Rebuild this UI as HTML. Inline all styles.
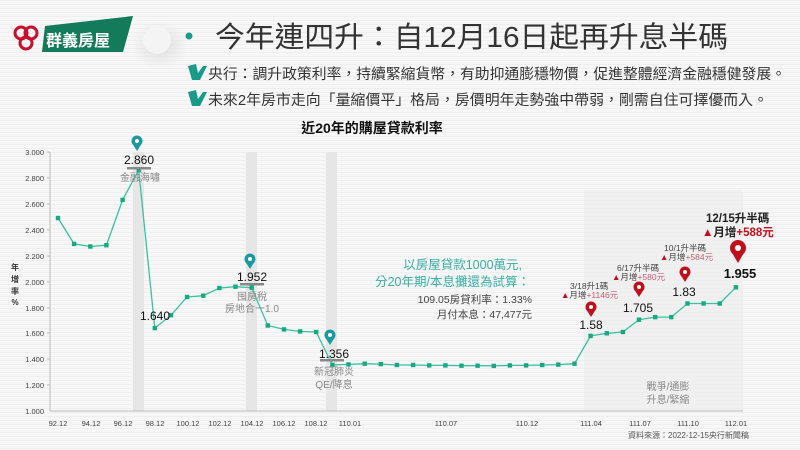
<!DOCTYPE html>
<html><head><meta charset="utf-8"><style>
html,body{margin:0;padding:0;background:#f6f6f6;}
svg{display:block;font-family:"Liberation Sans","Noto Sans CJK TC",sans-serif;}
</style></head><body>
<svg width="800" height="450" viewBox="0 0 800 450" xmlns="http://www.w3.org/2000/svg">
<defs>
<pattern id="st" width="4" height="4" patternUnits="userSpaceOnUse"><rect width="4" height="4" fill="#f7f7f7"/><rect y="0" width="4" height="1" fill="#efefef"/></pattern>
<radialGradient id="sh" cx="0.5" cy="0.5" r="0.5"><stop offset="0" stop-color="#ccc" stop-opacity="0.7"/><stop offset="1" stop-color="#ddd" stop-opacity="0"/></radialGradient>
</defs>
<rect width="800" height="450" fill="url(#st)"/>
<!-- logo -->
<polygon points="45,26 133,16 123,52 42,52" fill="#137a5a"/>
<g fill="none" stroke="#c8102e" stroke-width="3">
<circle cx="21" cy="33" r="6"/><circle cx="31" cy="33" r="6"/><circle cx="26" cy="43" r="6"/>
</g>
<text x="46" y="46" font-size="16" font-weight="bold" fill="#fff">群義房屋</text>
<ellipse cx="160" cy="45" rx="30" ry="25" fill="url(#sh)"/>
<circle cx="157" cy="40" r="14" fill="#f4f4f4"/>
<circle cx="189" cy="36" r="3.5" fill="#1a9a8a"/>
<text x="215" y="47" font-size="29" fill="#333" textLength="513" lengthAdjust="spacingAndGlyphs">今年連四升：自12月16日起再升息半碼</text>
<g fill="#1a9a8a"><polygon points="188,66 196,64 198,73 203,66 207,66 200,80 192,80"/><polygon points="188,92 196,90 198,99 203,92 207,92 200,106 192,106"/></g>
<text x="208" y="79" font-size="14.5" fill="#333" textLength="578" lengthAdjust="spacingAndGlyphs">央行：調升政策利率，持續緊縮貨幣，有助抑通膨穩物價，促進整體經濟金融穩健發展。</text>
<text x="208" y="105" font-size="14.5" fill="#333" textLength="560" lengthAdjust="spacingAndGlyphs">未來2年房市走向「量縮價平」格局，房價明年走勢強中帶弱，剛需自住可擇優而入。</text>
<text x="372" y="133" font-size="14" font-weight="bold" fill="#111" text-anchor="middle">近20年的購屋貸款利率</text>
<!-- bands -->
<g fill="#e6e6e6"><rect x="133" y="152" width="11" height="259"/><rect x="246" y="152" width="11" height="259"/><rect x="326" y="152" width="11" height="259"/></g>
<rect x="584" y="190" width="159" height="221" fill="#ededed" opacity="0.8"/>
<!-- axes -->
<g stroke="#bbb" stroke-width="1"><line x1="50" y1="152" x2="50" y2="411"/><line x1="50" y1="411" x2="743" y2="411"/></g>
<g font-size="7.5" fill="#444" text-anchor="end">
<text x="44" y="155">3.000</text><text x="44" y="181">2.800</text><text x="44" y="207">2.600</text><text x="44" y="233">2.400</text><text x="44" y="259">2.200</text><text x="44" y="285">2.000</text><text x="44" y="311">1.800</text><text x="44" y="336">1.600</text><text x="44" y="362">1.400</text><text x="44" y="388">1.200</text><text x="44" y="414">1.000</text>
</g>
<g stroke="#bbb"><line x1="47" y1="152" x2="50" y2="152"/><line x1="47" y1="178" x2="50" y2="178"/><line x1="47" y1="204" x2="50" y2="204"/><line x1="47" y1="230" x2="50" y2="230"/><line x1="47" y1="256" x2="50" y2="256"/><line x1="47" y1="282" x2="50" y2="282"/><line x1="47" y1="308" x2="50" y2="308"/><line x1="47" y1="333" x2="50" y2="333"/><line x1="47" y1="359" x2="50" y2="359"/><line x1="47" y1="385" x2="50" y2="385"/></g>
<g font-size="8" font-weight="bold" fill="#333" text-anchor="middle"><text x="15" y="270">年</text><text x="15" y="282">增</text><text x="15" y="294">率</text><text x="15" y="305">%</text></g>
<g font-size="7.5" fill="#444" text-anchor="middle">
<text x="58" y="426">92.12</text><text x="91" y="426">94.12</text><text x="123" y="426">96.12</text><text x="155" y="426">98.12</text><text x="188" y="426">100.12</text><text x="220" y="426">102.12</text><text x="252" y="426">104.12</text><text x="284" y="426">106.12</text><text x="316" y="426">108.12</text><text x="350" y="426">110.01</text><text x="446" y="426">110.07</text><text x="527" y="426">110.12</text><text x="591" y="426">111.04</text><text x="640" y="426">111.07</text><text x="688" y="426">111.10</text><text x="736" y="426">112.01</text>
</g>
<!-- series -->
<polyline fill="none" stroke="#3cc0a0" stroke-width="1.3" points="58.0,218.0 74.1,243.9 90.3,246.5 106.4,245.2 122.6,199.9 138.7,170.1 154.8,328.1 171.0,315.2 187.1,297.0 203.3,295.7 219.4,288.0 235.5,286.7 251.7,287.7 267.8,325.5 284.0,329.4 300.1,331.4 316.2,332.0 332.4,364.9 348.5,364.4 364.7,363.7 380.8,364.1 396.9,365.0 413.1,365.0 429.2,365.4 445.4,365.4 461.5,365.7 477.6,365.7 493.8,365.9 509.9,365.4 526.1,365.4 542.2,365.0 558.3,364.6 574.5,363.7 590.6,335.9 606.8,333.3 622.9,332.0 639.0,319.7 655.2,317.1 671.3,317.1 687.5,303.5 703.6,303.5 719.7,303.5 735.9,287.3"/>
<g fill="#18a882">
<rect x="55.8" y="215.8" width="4.4" height="4.4"/><rect x="71.9" y="241.7" width="4.4" height="4.4"/><rect x="88.1" y="244.3" width="4.4" height="4.4"/><rect x="104.2" y="243.0" width="4.4" height="4.4"/><rect x="120.4" y="197.7" width="4.4" height="4.4"/><rect x="136.5" y="167.9" width="4.4" height="4.4"/><rect x="152.6" y="325.9" width="4.4" height="4.4"/><rect x="168.8" y="313.0" width="4.4" height="4.4"/><rect x="184.9" y="294.8" width="4.4" height="4.4"/><rect x="201.1" y="293.5" width="4.4" height="4.4"/><rect x="217.2" y="285.8" width="4.4" height="4.4"/><rect x="233.3" y="284.5" width="4.4" height="4.4"/><rect x="249.5" y="285.5" width="4.4" height="4.4"/><rect x="265.6" y="323.3" width="4.4" height="4.4"/><rect x="281.8" y="327.2" width="4.4" height="4.4"/><rect x="297.9" y="329.2" width="4.4" height="4.4"/><rect x="314.0" y="329.8" width="4.4" height="4.4"/><rect x="330.2" y="362.7" width="4.4" height="4.4"/><rect x="346.3" y="362.2" width="4.4" height="4.4"/><rect x="362.5" y="361.5" width="4.4" height="4.4"/><rect x="378.6" y="361.9" width="4.4" height="4.4"/><rect x="394.7" y="362.8" width="4.4" height="4.4"/><rect x="410.9" y="362.8" width="4.4" height="4.4"/><rect x="427.0" y="363.2" width="4.4" height="4.4"/><rect x="443.2" y="363.2" width="4.4" height="4.4"/><rect x="459.3" y="363.5" width="4.4" height="4.4"/><rect x="475.4" y="363.5" width="4.4" height="4.4"/><rect x="491.6" y="363.7" width="4.4" height="4.4"/><rect x="507.7" y="363.2" width="4.4" height="4.4"/><rect x="523.9" y="363.2" width="4.4" height="4.4"/><rect x="540.0" y="362.8" width="4.4" height="4.4"/><rect x="556.1" y="362.4" width="4.4" height="4.4"/><rect x="572.3" y="361.5" width="4.4" height="4.4"/><rect x="588.4" y="333.7" width="4.4" height="4.4"/><rect x="604.6" y="331.1" width="4.4" height="4.4"/><rect x="620.7" y="329.8" width="4.4" height="4.4"/><rect x="636.8" y="317.5" width="4.4" height="4.4"/><rect x="653.0" y="314.9" width="4.4" height="4.4"/><rect x="669.1" y="314.9" width="4.4" height="4.4"/><rect x="685.3" y="301.3" width="4.4" height="4.4"/><rect x="701.4" y="301.3" width="4.4" height="4.4"/><rect x="717.5" y="301.3" width="4.4" height="4.4"/><rect x="733.7" y="285.1" width="4.4" height="4.4"/>
</g>
<!-- teal pins -->
<g fill="#1a9aa0">
<circle cx="137" cy="141" r="5.5"/><path d="M132,143 L137,151 L142,143 z"/>
<circle cx="250" cy="259" r="5.5"/><path d="M245,261 L250,269 L255,261 z"/>
<circle cx="330" cy="335" r="5.5"/><path d="M325,337 L330,345 L335,337 z"/>
</g>
<g fill="#fff"><circle cx="137" cy="141" r="2"/><circle cx="250" cy="259" r="2"/><circle cx="330" cy="335" r="2"/></g>
<g font-size="12" fill="#111" text-anchor="middle"><text x="139" y="164">2.860</text><text x="252" y="281">1.952</text><text x="334" y="358">1.356</text><text x="155" y="320">1.640</text></g>
<g fill="#888"><rect x="127" y="167" width="24" height="2.5"/><rect x="240" y="283" width="24" height="2.5"/><rect x="320" y="359" width="24" height="2.5"/></g>
<g font-size="10" fill="#888" text-anchor="middle"><text x="140" y="181">金融海嘯</text><text x="252" y="300">囤房稅</text><text x="252" y="312">房地合一1.0</text><text x="334" y="375">新冠肺炎</text><text x="334" y="388">QE/降息</text><text x="668" y="390">戰爭/通膨</text><text x="668" y="403">升息/緊縮</text></g>
<!-- middle text -->
<g font-size="12.5" fill="#3aaea4" text-anchor="end"><text x="522" y="269">以房屋貸款1000萬元,</text><text x="530" y="286">分20年期/本息攤還為試算：</text></g>
<g font-size="10.5" fill="#444" text-anchor="end"><text x="532" y="303">109.05房貸利率：1.33%</text><text x="532" y="318">月付本息：47,477元</text></g>
<!-- red pins -->
<g fill="#c0101c">
<circle cx="591" cy="307" r="5.5"/><path d="M586,309 L591,317 L596,309 z"/>
<circle cx="639" cy="287" r="5.5"/><path d="M634,289 L639,297 L644,289 z"/>
<circle cx="685" cy="272" r="5.5"/><path d="M680,274 L685,282 L690,274 z"/>
<circle cx="738" cy="248" r="8"/><path d="M731,251 L738,263 L745,251 z"/>
</g>
<g fill="#fff"><circle cx="591" cy="307" r="2"/><circle cx="639" cy="287" r="2"/><circle cx="685" cy="272" r="2"/><circle cx="738" cy="248" r="3"/></g>
<g font-size="12" fill="#111" text-anchor="middle"><text x="591" y="329">1.58</text><text x="638" y="312">1.705</text><text x="684" y="296">1.83</text><text font-weight="bold" font-size="13" x="740" y="278">1.955</text></g>
<g font-size="8.5" fill="#444"><text x="570" y="289">3/18升1碼</text><text x="617" y="271">6/17升半碼</text><text x="664" y="251">10/1升半碼</text></g>
<g font-size="8.5"><text x="561" y="298" fill="#c0101c">▲<tspan fill="#444">月增</tspan><tspan fill="#c06070">+1146元</tspan></text>
<text x="612" y="280" fill="#c0101c">▲<tspan fill="#444">月增</tspan><tspan fill="#c06070">+580元</tspan></text>
<text x="660" y="260" fill="#c0101c">▲<tspan fill="#444">月增</tspan><tspan fill="#c06070">+584元</tspan></text></g>
<text x="706" y="222" font-size="11.5" font-weight="bold" fill="#222">12/15升半碼</text>
<text x="702" y="236" font-size="11.5" font-weight="bold" fill="#c0101c">▲<tspan fill="#222">月增</tspan><tspan>+588元</tspan></text>
<text x="628" y="438" font-size="8" fill="#555">資料來源：2022-12-15央行新聞稿</text>
</svg>
</body></html>
